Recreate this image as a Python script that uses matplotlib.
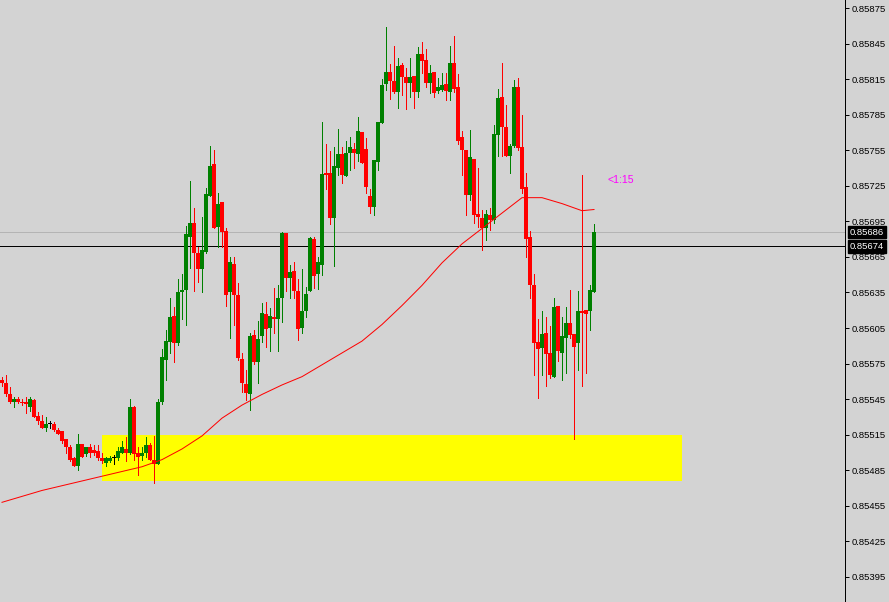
import matplotlib

matplotlib.use("Agg")
import matplotlib.pyplot as plt
import matplotlib.transforms as mtransforms
import numpy as np

# ---- data (prices) ----
opens = [
    0.85561, 0.85559, 0.85549, 0.85543, 0.85545, 0.85543, 0.85543, 0.85538, 0.85544, 0.85531,
    0.85527, 0.85521, 0.85524, 0.85524, 0.85519, 0.85518, 0.85511, 0.85505, 0.85495, 0.85489,
    0.85507, 0.85499, 0.85505, 0.85502, 0.85501, 0.85495, 0.85491, 0.85493, 0.85495, 0.85495,
    0.85500, 0.85503, 0.85500, 0.85538, 0.85500, 0.85497, 0.85500, 0.85506, 0.85494, 0.85490,
    0.85543, 0.85578, 0.85593, 0.85615, 0.85592, 0.85635, 0.85637, 0.85682, 0.85694, 0.85668,
    0.85655, 0.85669, 0.85716, 0.85743, 0.85690, 0.85711, 0.85687, 0.85635, 0.85659, 0.85633,
    0.85579, 0.85558, 0.85549, 0.85599, 0.85576, 0.85598, 0.85617, 0.85605, 0.85614, 0.85613,
    0.85630, 0.85685, 0.85647, 0.85653, 0.85636, 0.85605, 0.85619, 0.85636, 0.85680, 0.85651,
    0.85658, 0.85736, 0.85736, 0.85698, 0.85740, 0.85752, 0.85733, 0.85753, 0.85756, 0.85752,
    0.85770, 0.85756, 0.85716, 0.85707, 0.85745, 0.85778, 0.85811, 0.85821, 0.85813, 0.85804,
    0.85827, 0.85817, 0.85812, 0.85818, 0.85804, 0.85836, 0.85831, 0.85812, 0.85821, 0.85805,
    0.85806, 0.85811, 0.85804, 0.85829, 0.85808, 0.85766, 0.85755, 0.85717, 0.85748, 0.85701,
    0.85698, 0.85689, 0.85700, 0.85696, 0.85768, 0.85800, 0.85775, 0.85750, 0.85759, 0.85808,
    0.85758, 0.85724, 0.85682, 0.85641, 0.85593, 0.85588, 0.85601, 0.85584, 0.85564, 0.85624,
    0.85584, 0.85597, 0.85609, 0.85600, 0.85592, 0.85619, 0.85620, 0.85619, 0.85635,
]
highs = [
    0.85564, 0.85565, 0.85555, 0.85547, 0.85547, 0.85545, 0.85547, 0.85547, 0.85545, 0.85534,
    0.85532, 0.85530, 0.85527, 0.85526, 0.85521, 0.85518, 0.85511, 0.85506, 0.85496, 0.85516,
    0.85507, 0.85505, 0.85507, 0.85506, 0.85506, 0.85500, 0.85496, 0.85497, 0.85498, 0.85505,
    0.85510, 0.85513, 0.85545, 0.85539, 0.85505, 0.85505, 0.85513, 0.85508, 0.85514, 0.85545,
    0.85587, 0.85603, 0.85630, 0.85623, 0.85646, 0.85651, 0.85691, 0.85729, 0.85706, 0.85673,
    0.85699, 0.85723, 0.85759, 0.85755, 0.85719, 0.85711, 0.85689, 0.85665, 0.85665, 0.85643,
    0.85584, 0.85570, 0.85601, 0.85603, 0.85611, 0.85626, 0.85627, 0.85622, 0.85639, 0.85641,
    0.85686, 0.85685, 0.85658, 0.85661, 0.85646, 0.85655, 0.85640, 0.85682, 0.85682, 0.85665,
    0.85779, 0.85760, 0.85754, 0.85758, 0.85773, 0.85758, 0.85763, 0.85766, 0.85761, 0.85783,
    0.85770, 0.85765, 0.85722, 0.85747, 0.85779, 0.85815, 0.85859, 0.85828, 0.85843, 0.85833,
    0.85829, 0.85824, 0.85833, 0.85818, 0.85842, 0.85846, 0.85840, 0.85827, 0.85821, 0.85816,
    0.85820, 0.85820, 0.85843, 0.85851, 0.85819, 0.85771, 0.85755, 0.85772, 0.85748, 0.85740,
    0.85705, 0.85705, 0.85706, 0.85776, 0.85807, 0.85829, 0.85793, 0.85760, 0.85814, 0.85816,
    0.85785, 0.85736, 0.85687, 0.85651, 0.85613, 0.85619, 0.85614, 0.85607, 0.85630, 0.85624,
    0.85614, 0.85623, 0.85637, 0.85600, 0.85636, 0.85734, 0.85620, 0.85641, 0.85693,
]
lows = [
    0.85556, 0.85548, 0.85542, 0.85538, 0.85542, 0.85540, 0.85533, 0.85535, 0.85530, 0.85524,
    0.85521, 0.85518, 0.85521, 0.85518, 0.85516, 0.85508, 0.85500, 0.85493, 0.85489, 0.85485,
    0.85496, 0.85497, 0.85496, 0.85498, 0.85494, 0.85491, 0.85489, 0.85492, 0.85490, 0.85494,
    0.85500, 0.85493, 0.85499, 0.85494, 0.85481, 0.85494, 0.85496, 0.85494, 0.85474, 0.85490,
    0.85541, 0.85561, 0.85584, 0.85576, 0.85591, 0.85613, 0.85608, 0.85656, 0.85636, 0.85644,
    0.85635, 0.85668, 0.85716, 0.85689, 0.85673, 0.85673, 0.85624, 0.85597, 0.85608, 0.85578,
    0.85551, 0.85544, 0.85536, 0.85575, 0.85559, 0.85593, 0.85589, 0.85586, 0.85601, 0.85586,
    0.85610, 0.85636, 0.85630, 0.85630, 0.85595, 0.85601, 0.85614, 0.85636, 0.85639, 0.85638,
    0.85650, 0.85722, 0.85693, 0.85657, 0.85734, 0.85727, 0.85733, 0.85738, 0.85740, 0.85746,
    0.85744, 0.85719, 0.85702, 0.85700, 0.85738, 0.85778, 0.85806, 0.85798, 0.85803, 0.85791,
    0.85802, 0.85790, 0.85800, 0.85791, 0.85800, 0.85820, 0.85808, 0.85803, 0.85800, 0.85803,
    0.85805, 0.85797, 0.85797, 0.85804, 0.85760, 0.85734, 0.85700, 0.85713, 0.85694, 0.85690,
    0.85671, 0.85679, 0.85688, 0.85694, 0.85750, 0.85750, 0.85750, 0.85736, 0.85758, 0.85755,
    0.85719, 0.85665, 0.85630, 0.85565, 0.85546, 0.85565, 0.85556, 0.85563, 0.85564, 0.85577,
    0.85561, 0.85567, 0.85597, 0.85511, 0.85570, 0.85556, 0.85567, 0.85603, 0.85635,
]
closes = [
    0.85559, 0.85549, 0.85543, 0.85545, 0.85543, 0.85542, 0.85541, 0.85545, 0.85530, 0.85527,
    0.85521, 0.85524, 0.85524, 0.85519, 0.85516, 0.85510, 0.85505, 0.85494, 0.85489, 0.85507,
    0.85496, 0.85505, 0.85500, 0.85500, 0.85495, 0.85493, 0.85495, 0.85495, 0.85495, 0.85501,
    0.85505, 0.85500, 0.85538, 0.85499, 0.85496, 0.85500, 0.85506, 0.85494, 0.85490, 0.85543,
    0.85581, 0.85594, 0.85614, 0.85592, 0.85635, 0.85637, 0.85684, 0.85694, 0.85668, 0.85655,
    0.85671, 0.85718, 0.85742, 0.85689, 0.85710, 0.85686, 0.85633, 0.85661, 0.85633, 0.85580,
    0.85559, 0.85550, 0.85598, 0.85576, 0.85596, 0.85618, 0.85604, 0.85615, 0.85613, 0.85630,
    0.85685, 0.85647, 0.85652, 0.85636, 0.85604, 0.85619, 0.85634, 0.85681, 0.85649, 0.85661,
    0.85735, 0.85734, 0.85698, 0.85742, 0.85752, 0.85734, 0.85753, 0.85758, 0.85753, 0.85771,
    0.85744, 0.85724, 0.85707, 0.85747, 0.85779, 0.85810, 0.85821, 0.85813, 0.85804, 0.85826,
    0.85817, 0.85812, 0.85817, 0.85804, 0.85836, 0.85830, 0.85812, 0.85820, 0.85803, 0.85808,
    0.85810, 0.85805, 0.85829, 0.85807, 0.85763, 0.85755, 0.85717, 0.85749, 0.85700, 0.85699,
    0.85689, 0.85701, 0.85696, 0.85769, 0.85799, 0.85775, 0.85750, 0.85759, 0.85808, 0.85757,
    0.85722, 0.85680, 0.85641, 0.85592, 0.85587, 0.85600, 0.85583, 0.85565, 0.85623, 0.85586,
    0.85598, 0.85609, 0.85599, 0.85589, 0.85619, 0.85618, 0.85617, 0.85637, 0.85686,
]

# moving average, sampled every 5 bars
ma_bars = [0, 5, 10, 15, 20, 25, 30, 35, 40, 45, 50, 55, 60, 65, 70, 75, 80, 85, 90, 95,
           100, 105, 110, 115, 120, 125, 130, 135, 140, 145, 148]
ma_vals = [0.85458, 0.85463, 0.85468, 0.85472, 0.85476, 0.85480, 0.85484, 0.85488, 0.85494,
           0.85503, 0.85514, 0.85529, 0.85540, 0.85549, 0.85557, 0.85564, 0.85574, 0.85584,
           0.85594, 0.85608, 0.85624, 0.85641, 0.85660, 0.85676, 0.85689, 0.85702, 0.85715,
           0.85715, 0.85710, 0.85704, 0.85705]

zone_bars = (25, 170)
zone_prices = (0.85476, 0.85515)
ask_price = 0.85686
bid_price = 0.85674
timer_text = "<1:15"
timer_pos = (151.5, 0.85730)
tick_values = [0.85395 + 0.0003 * k for k in range(17)]

# ---- render ----
bg = "#d3d3d3"
bull, bear, doji = "#008000", "#ff0000", "#000000"
px = 0.72  # one pixel in points at dpi 100
plt.rcParams["font.family"] = ["Liberation Sans", "DejaVu Sans"]

fig = plt.figure(figsize=(8.89, 6.02), dpi=100)
fig.patch.set_facecolor(bg)
ax = fig.add_axes([0, 0, 845 / 889, 1])
ax.set_facecolor(bg)
ax.set_xlim(-0.5, 210.75)
ax.set_ylim(0.853739, 0.8588175)

o, h, l, c = (np.array(a) for a in (opens, highs, lows, closes))
x = np.arange(len(o))
colors = np.where(c > o, bull, np.where(c < o, bear, doji))
one_px = (0.8588175 - 0.853739) / 602

ax.add_patch(plt.Rectangle((zone_bars[0], zone_prices[0]), zone_bars[1] - zone_bars[0],
                           zone_prices[1] - zone_prices[0], color="#ffff00", lw=0, zorder=1))

ax.axhline(ask_price, color="#b4b4b4", lw=px, zorder=2)
ax.axhline(bid_price, color="black", lw=px, zorder=2)

ax.vlines(x, l, h, colors=colors, lw=px, antialiased=False, zorder=3)
body = np.maximum(np.abs(c - o), one_px)
ax.bar(x, body, bottom=np.minimum(o, c), width=0.8, color=colors, lw=0,
       antialiased=False, zorder=4)

ax.plot(ma_bars, ma_vals, color=bear, lw=px, zorder=5)

ax.text(*timer_pos, timer_text, color="#ff00ff", fontsize=7.6, ha="left", va="center")

# right price scale
for sp in ("top", "left", "bottom"):
    ax.spines[sp].set_visible(False)
ax.spines["right"].set_color("black")
ax.spines["right"].set_linewidth(px)
ax.set_xticks([])
ax.yaxis.tick_right()
ax.set_yticks(tick_values, [f"{v:.5f}" for v in tick_values])
ax.tick_params(axis="y", length=3, width=px, pad=2, labelsize=6.8, colors="black")

trans = mtransforms.blended_transform_factory(ax.transAxes, ax.transData)
for price in (ask_price, bid_price):
    ax.annotate(f"{price:.5f}", xy=(1.0, price), xycoords=trans, xytext=(3.5, 0),
                textcoords="offset points", ha="left", va="center", color="white",
                fontsize=6.8, annotation_clip=False,
                bbox=dict(boxstyle="square,pad=0.2", fc="black", ec="black"))

fig.savefig("out.png", dpi=100, facecolor=bg)
